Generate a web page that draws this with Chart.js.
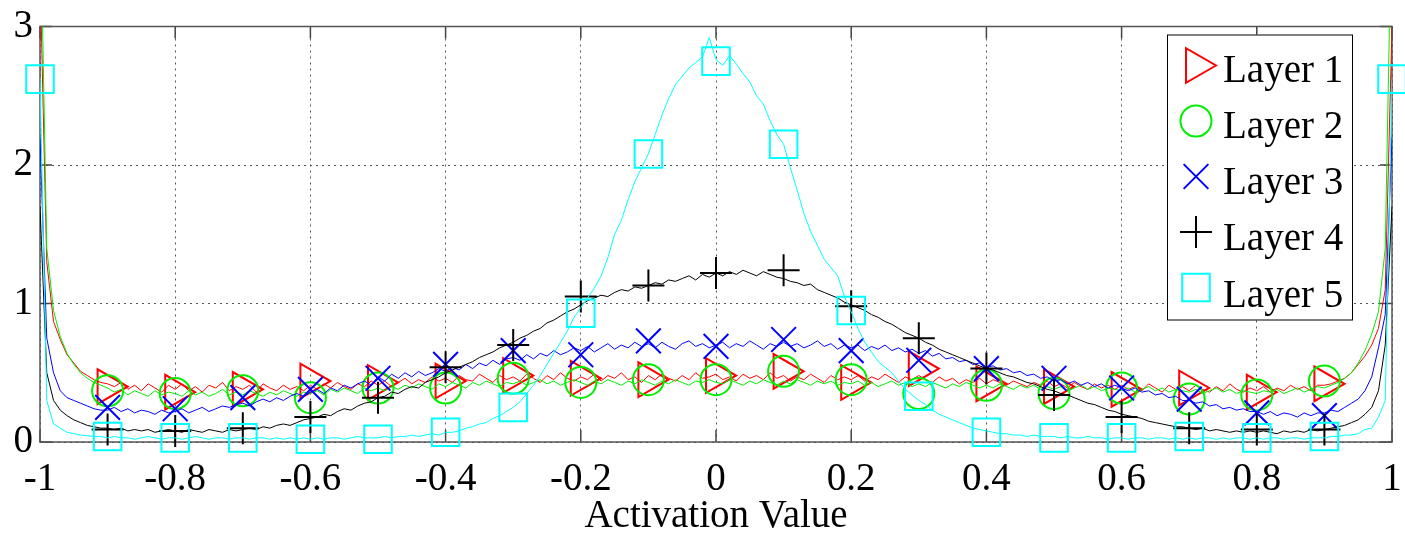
<!DOCTYPE html>
<html>
<head>
<meta charset="utf-8">
<script src="https://cdn.jsdelivr.net/npm/chart.js@4.4.1/dist/chart.umd.min.js"></script>
<style>
  html, body { margin: 0; padding: 0; background: #fff; }
  #wrap { width: 1405px; height: 535px; }
</style>
</head>
<body>
<div id="wrap"><canvas id="chart"></canvas></div>
<script>
// histogram bins from -1 to 1, one value every 0.01
const binStep = 0.01;

const layer1 = [
  3.40, 1.30, 0.87, 0.74, 0.63, 0.57, 0.51, 0.48, 0.45, 0.43,
  0.42, 0.40, 0.43, 0.38, 0.41, 0.37, 0.42, 0.39, 0.36, 0.41,
  0.38, 0.42, 0.37, 0.40, 0.36, 0.41, 0.39, 0.43, 0.37, 0.40,
  0.38, 0.41, 0.36, 0.42, 0.39, 0.37, 0.41, 0.38, 0.40, 0.37,
  0.41, 0.38, 0.42, 0.39, 0.43, 0.40, 0.38, 0.42, 0.40, 0.44,
  0.41, 0.44, 0.40, 0.43, 0.46, 0.42, 0.45, 0.43, 0.47, 0.44,
  0.46, 0.43, 0.48, 0.45, 0.44, 0.49, 0.46, 0.43, 0.48, 0.45,
  0.47, 0.44, 0.49, 0.46, 0.43, 0.48, 0.45, 0.50, 0.46, 0.44,
  0.47, 0.45, 0.49, 0.44, 0.48, 0.46, 0.50, 0.45, 0.47, 0.43,
  0.48, 0.45, 0.49, 0.46, 0.44, 0.48, 0.45, 0.50, 0.46, 0.47,
  0.49, 0.45, 0.47, 0.44, 0.49, 0.46, 0.48, 0.45, 0.50, 0.46,
  0.48, 0.44, 0.47, 0.45, 0.49, 0.46, 0.43, 0.48, 0.45, 0.47,
  0.45, 0.48, 0.44, 0.47, 0.45, 0.49, 0.46, 0.43, 0.47, 0.45,
  0.48, 0.45, 0.43, 0.47, 0.44, 0.46, 0.42, 0.45, 0.43, 0.46,
  0.42, 0.45, 0.43, 0.41, 0.44, 0.42, 0.40, 0.43, 0.41, 0.44,
  0.40, 0.42, 0.39, 0.43, 0.40, 0.38, 0.42, 0.39, 0.41, 0.38,
  0.41, 0.38, 0.40, 0.37, 0.42, 0.39, 0.36, 0.41, 0.38, 0.40,
  0.37, 0.41, 0.38, 0.36, 0.40, 0.37, 0.42, 0.38, 0.36, 0.39,
  0.37, 0.40, 0.36, 0.39, 0.37, 0.41, 0.38, 0.40, 0.37, 0.41,
  0.41, 0.42, 0.44, 0.46, 0.50, 0.56, 0.62, 0.70, 0.82, 1.10,
  3.00
];

const layer2 = [
  4.00, 1.40, 0.95, 0.76, 0.64, 0.56, 0.50, 0.46, 0.43, 0.41,
  0.39, 0.36, 0.38, 0.34, 0.37, 0.35, 0.33, 0.37, 0.34, 0.36,
  0.35, 0.33, 0.37, 0.34, 0.36, 0.33, 0.35, 0.38, 0.34, 0.36,
  0.34, 0.37, 0.35, 0.33, 0.36, 0.34, 0.37, 0.35, 0.33, 0.36,
  0.35, 0.37, 0.34, 0.38, 0.36, 0.39, 0.37, 0.35, 0.39, 0.37,
  0.39, 0.37, 0.40, 0.38, 0.41, 0.39, 0.42, 0.40, 0.38, 0.42,
  0.40, 0.43, 0.41, 0.39, 0.43, 0.41, 0.44, 0.42, 0.40, 0.43,
  0.42, 0.44, 0.41, 0.43, 0.45, 0.42, 0.44, 0.41, 0.43, 0.45,
  0.43, 0.41, 0.44, 0.42, 0.45, 0.43, 0.41, 0.44, 0.42, 0.45,
  0.43, 0.41, 0.44, 0.42, 0.45, 0.43, 0.41, 0.44, 0.43, 0.45,
  0.43, 0.42, 0.45, 0.43, 0.41, 0.44, 0.42, 0.45, 0.43, 0.41,
  0.44, 0.42, 0.45, 0.43, 0.41, 0.44, 0.42, 0.44, 0.41, 0.43,
  0.42, 0.44, 0.41, 0.43, 0.40, 0.42, 0.44, 0.41, 0.43, 0.40,
  0.42, 0.40, 0.43, 0.41, 0.39, 0.42, 0.40, 0.43, 0.41, 0.39,
  0.41, 0.39, 0.42, 0.40, 0.38, 0.41, 0.39, 0.41, 0.38, 0.40,
  0.38, 0.40, 0.37, 0.39, 0.41, 0.38, 0.40, 0.37, 0.39, 0.38,
  0.37, 0.39, 0.36, 0.38, 0.40, 0.37, 0.39, 0.36, 0.38, 0.37,
  0.36, 0.38, 0.35, 0.37, 0.39, 0.36, 0.38, 0.35, 0.37, 0.36,
  0.35, 0.37, 0.36, 0.38, 0.35, 0.37, 0.39, 0.36, 0.38, 0.40,
  0.39, 0.41, 0.43, 0.46, 0.50, 0.57, 0.66, 0.78, 0.94, 1.40,
  4.00
];

const layer3 = [
  2.20, 0.75, 0.50, 0.37, 0.32, 0.30, 0.28, 0.26, 0.24, 0.23,
  0.23, 0.25, 0.22, 0.24, 0.21, 0.23, 0.22, 0.20, 0.23, 0.21,
  0.22, 0.24, 0.21, 0.23, 0.25, 0.22, 0.24, 0.26, 0.25, 0.27,
  0.28, 0.26, 0.29, 0.31, 0.29, 0.32, 0.30, 0.33, 0.35, 0.33,
  0.36, 0.38, 0.35, 0.39, 0.37, 0.41, 0.39, 0.42, 0.44, 0.41,
  0.47, 0.44, 0.49, 0.46, 0.50, 0.47, 0.51, 0.48, 0.50, 0.53,
  0.51, 0.54, 0.52, 0.56, 0.53, 0.57, 0.55, 0.59, 0.56, 0.60,
  0.61, 0.59, 0.63, 0.60, 0.64, 0.62, 0.66, 0.63, 0.65, 0.68,
  0.66, 0.69, 0.65, 0.68, 0.71, 0.67, 0.70, 0.68, 0.72, 0.69,
  0.71, 0.68, 0.72, 0.69, 0.67, 0.71, 0.73, 0.69, 0.71, 0.68,
  0.70, 0.72, 0.68, 0.71, 0.69, 0.73, 0.70, 0.67, 0.71, 0.69,
  0.72, 0.69, 0.71, 0.68, 0.70, 0.73, 0.69, 0.71, 0.67, 0.70,
  0.68, 0.70, 0.66, 0.69, 0.67, 0.70, 0.66, 0.68, 0.65, 0.67,
  0.64, 0.66, 0.62, 0.64, 0.60, 0.61, 0.58, 0.59, 0.56, 0.57,
  0.54, 0.55, 0.52, 0.53, 0.50, 0.51, 0.48, 0.49, 0.46, 0.47,
  0.44, 0.45, 0.42, 0.44, 0.41, 0.43, 0.40, 0.42, 0.39, 0.41,
  0.39, 0.37, 0.39, 0.36, 0.37, 0.34, 0.35, 0.32, 0.33, 0.30,
  0.30, 0.28, 0.29, 0.26, 0.27, 0.24, 0.25, 0.23, 0.24, 0.22,
  0.22, 0.20, 0.22, 0.19, 0.21, 0.20, 0.18, 0.21, 0.19, 0.21,
  0.21, 0.23, 0.22, 0.25, 0.28, 0.31, 0.37, 0.47, 0.68, 0.92,
  2.20
];

const layer4 = [
  1.70, 0.50, 0.30, 0.23, 0.19, 0.16, 0.14, 0.12, 0.11, 0.10,
  0.10, 0.09, 0.10, 0.08, 0.09, 0.08, 0.09, 0.07, 0.08, 0.09,
  0.08, 0.07, 0.09, 0.08, 0.07, 0.09, 0.08, 0.07, 0.09, 0.08,
  0.09, 0.10, 0.09, 0.11, 0.10, 0.12, 0.13, 0.12, 0.14, 0.16,
  0.17, 0.18, 0.20, 0.19, 0.22, 0.24, 0.23, 0.26, 0.28, 0.29,
  0.32, 0.33, 0.36, 0.35, 0.38, 0.40, 0.39, 0.43, 0.45, 0.47,
  0.50, 0.52, 0.54, 0.56, 0.58, 0.61, 0.63, 0.65, 0.68, 0.70,
  0.72, 0.75, 0.77, 0.80, 0.82, 0.86, 0.88, 0.91, 0.94, 0.96,
  0.99, 1.02, 1.04, 1.06, 1.05, 1.08, 1.10, 1.09, 1.12, 1.11,
  1.13, 1.15, 1.14, 1.17, 1.16, 1.18, 1.20, 1.17, 1.21, 1.19,
  1.22, 1.20, 1.23, 1.21, 1.24, 1.22, 1.20, 1.23, 1.21, 1.19,
  1.18, 1.16, 1.15, 1.13, 1.14, 1.10, 1.08, 1.06, 1.04, 1.01,
  0.99, 0.97, 0.95, 0.92, 0.90, 0.87, 0.85, 0.82, 0.79, 0.77,
  0.75, 0.72, 0.70, 0.67, 0.65, 0.63, 0.61, 0.59, 0.57, 0.55,
  0.53, 0.52, 0.50, 0.48, 0.47, 0.45, 0.43, 0.42, 0.40, 0.38,
  0.37, 0.35, 0.34, 0.32, 0.30, 0.28, 0.27, 0.25, 0.23, 0.22,
  0.20, 0.19, 0.18, 0.17, 0.15, 0.14, 0.13, 0.12, 0.11, 0.11,
  0.10, 0.09, 0.10, 0.08, 0.09, 0.08, 0.07, 0.08, 0.07, 0.08,
  0.07, 0.08, 0.07, 0.06, 0.08, 0.07, 0.08, 0.07, 0.09, 0.08,
  0.09, 0.10, 0.11, 0.12, 0.14, 0.16, 0.20, 0.25, 0.37, 0.70,
  1.70
];

const layer5 = [
  2.62, 0.30, 0.13, 0.10, 0.07, 0.06, 0.05, 0.045, 0.04, 0.04,
  0.03, 0.04, 0.03, 0.03, 0.02, 0.03, 0.04, 0.03, 0.02, 0.03,
  0.03, 0.02, 0.03, 0.04, 0.03, 0.02, 0.03, 0.03, 0.02, 0.03,
  0.03, 0.02, 0.03, 0.03, 0.02, 0.03, 0.02, 0.03, 0.02, 0.03,
  0.02, 0.03, 0.02, 0.03, 0.03, 0.02, 0.03, 0.04, 0.03, 0.03,
  0.03, 0.04, 0.03, 0.04, 0.04, 0.05, 0.04, 0.05, 0.06, 0.05,
  0.07, 0.07, 0.08, 0.10, 0.11, 0.13, 0.14, 0.17, 0.19, 0.22,
  0.25, 0.29, 0.35, 0.41, 0.48, 0.56, 0.64, 0.72, 0.80, 0.90,
  0.97, 1.04, 1.11, 1.20, 1.33, 1.50, 1.60, 1.75, 1.88, 1.98,
  2.08, 2.22, 2.36, 2.48, 2.58, 2.64, 2.70, 2.74, 2.78, 2.92,
  2.76, 2.72, 2.79, 2.73, 2.66, 2.60, 2.50, 2.44, 2.32, 2.22,
  2.15, 1.98, 1.82, 1.65, 1.52, 1.42, 1.32, 1.26, 1.20, 1.05,
  0.94, 0.82, 0.72, 0.65, 0.58, 0.54, 0.50, 0.44, 0.38, 0.34,
  0.30, 0.27, 0.23, 0.20, 0.18, 0.16, 0.14, 0.12, 0.10, 0.09,
  0.08, 0.07, 0.06, 0.06, 0.05, 0.05, 0.04, 0.05, 0.04, 0.04,
  0.04, 0.03, 0.04, 0.03, 0.03, 0.04, 0.03, 0.03, 0.02, 0.03,
  0.03, 0.02, 0.03, 0.03, 0.02, 0.03, 0.03, 0.02, 0.03, 0.02,
  0.03, 0.02, 0.03, 0.03, 0.02, 0.03, 0.02, 0.03, 0.03, 0.02,
  0.03, 0.02, 0.03, 0.03, 0.02, 0.03, 0.03, 0.02, 0.03, 0.03,
  0.03, 0.04, 0.04, 0.05, 0.05, 0.06, 0.09, 0.10, 0.18, 0.30,
  2.62
];

// marker positions (every 0.1) and the values they sit on
const markX = [-0.9, -0.8, -0.7, -0.6, -0.5, -0.4, -0.3, -0.2, -0.1, 0, 0.1, 0.2, 0.3, 0.4, 0.5, 0.6, 0.7, 0.8, 0.9];
const markX5 = [-1, -0.9, -0.8, -0.7, -0.6, -0.5, -0.4, -0.3, -0.2, -0.1, 0, 0.1, 0.2, 0.3, 0.4, 0.5, 0.6, 0.7, 0.8, 0.9, 1];
const marks1 = [0.40, 0.36, 0.38, 0.44, 0.43, 0.44, 0.48, 0.46, 0.45, 0.48, 0.51, 0.43, 0.53, 0.42, 0.40, 0.38, 0.39, 0.36, 0.42];
const marks2 = [0.37, 0.35, 0.37, 0.32, 0.39, 0.39, 0.46, 0.43, 0.45, 0.45, 0.51, 0.45, 0.35, 0.41, 0.35, 0.39, 0.31, 0.34, 0.44];
const marks3 = [0.25, 0.24, 0.32, 0.38, 0.46, 0.56, 0.66, 0.63, 0.73, 0.69, 0.74, 0.66, 0.59, 0.53, 0.46, 0.39, 0.31, 0.21, 0.19];
const marks4 = [0.09, 0.08, 0.10, 0.18, 0.32, 0.54, 0.70, 1.05, 1.13, 1.22, 1.24, 0.98, 0.75, 0.53, 0.34, 0.18, 0.10, 0.09, 0.09];
const marks5 = [2.62, 0.04, 0.03, 0.03, 0.02, 0.02, 0.07, 0.25, 0.93, 2.08, 2.75, 2.15, 0.95, 0.33, 0.07, 0.03, 0.03, 0.04, 0.03, 0.04, 2.62];

const layerNames = ['Layer 1', 'Layer 2', 'Layer 3', 'Layer 4', 'Layer 5'];
const layerColors = ['#ff0000', '#00ee00', '#0000ff', '#000000', '#00ffff'];
const layerMarkers = [
  { style: 'triangle', rotation: 90, radius: 20 },
  { style: 'circle', rotation: 0, radius: 15.5 },
  { style: 'crossRot', rotation: 0, radius: 17.5 },
  { style: 'cross', rotation: 0, radius: 16 },
  { style: 'rect', rotation: 0, radius: 19.5 }
];

const FONT = "'Liberation Serif', 'Times New Roman', serif";

const lineSeries = [layer1, layer2, layer3, layer4, layer5];
const markSeries = [[markX, marks1], [markX, marks2], [markX, marks3], [markX, marks4], [markX5, marks5]];

const binX = layer1.map((_, i) => Math.round((-1 + i * binStep) * 100) / 100);
const toPoints = (xs, ys) => ys.map((y, i) => ({ x: xs[i], y: y }));

const datasets = [];
lineSeries.forEach((vals, k) => {
  // later layers are drawn on top, like in the original figure
  datasets.push({
    label: layerNames[k] + ' line',
    data: toPoints(binX, vals),
    borderColor: layerColors[k],
    borderWidth: 1,
    pointRadius: 0,
    tension: 0,
    order: 20 - 2 * k
  });
  datasets.push({
    label: layerNames[k],
    data: toPoints(markSeries[k][0], markSeries[k][1]),
    showLine: false,
    clip: false,
    pointStyle: layerMarkers[k].style,
    pointRotation: layerMarkers[k].rotation,
    pointRadius: layerMarkers[k].radius,
    pointBorderWidth: 2,
    pointBorderColor: layerColors[k],
    pointBackgroundColor: 'rgba(0,0,0,0)',
    order: 19 - 2 * k
  });
});

// axes box with inward tick marks
const boxPlugin = {
  id: 'boxPlugin',
  beforeDatasetsDraw(chart) {
    const { ctx, chartArea: a, scales } = chart;
    ctx.save();
    ctx.strokeStyle = '#444';
    ctx.lineWidth = 1.5;
    ctx.beginPath();
    scales.x.ticks.forEach(t => {
      const px = scales.x.getPixelForValue(t.value);
      ctx.moveTo(px, a.bottom); ctx.lineTo(px, a.bottom - 12);
      ctx.moveTo(px, a.top); ctx.lineTo(px, a.top + 12);
    });
    scales.y.ticks.forEach(t => {
      const py = scales.y.getPixelForValue(t.value);
      ctx.moveTo(a.left, py); ctx.lineTo(a.left + 12, py);
      ctx.moveTo(a.right, py); ctx.lineTo(a.right - 12, py);
    });
    ctx.stroke();
    ctx.strokeStyle = '#555';
    ctx.strokeRect(a.left, a.top, a.right - a.left, a.bottom - a.top);
    ctx.restore();
  }
};

// boxed legend in the upper right corner
const legendPlugin = {
  id: 'boxLegend',
  afterDatasetsDraw(chart) {
    const { ctx, chartArea: a } = chart;
    const w = 185, h = 285;
    const left = a.right - 40 - w;
    const top = a.top + 8;
    ctx.save();
    ctx.fillStyle = '#fff';
    ctx.fillRect(left, top, w, h);
    ctx.strokeStyle = '#000';
    ctx.lineWidth = 1;
    ctx.strokeRect(left + 0.5, top + 0.5, w, h);
    ctx.font = '39px ' + FONT;
    ctx.textBaseline = 'alphabetic';
    ctx.textAlign = 'left';
    layerNames.forEach((name, i) => {
      const sy = top + 31 + i * 55.5;
      ctx.strokeStyle = layerColors[i];
      ctx.fillStyle = 'rgba(0,0,0,0)';
      ctx.lineWidth = 2;
      Chart.helpers.drawPoint(ctx, {
        pointStyle: layerMarkers[i].style,
        rotation: layerMarkers[i].rotation,
        radius: layerMarkers[i].radius,
        borderWidth: 2
      }, left + 29, sy);
      ctx.fillStyle = '#000';
      ctx.fillText(name, left + 56, top + 47 + i * 56.3);
    });
    ctx.restore();
  }
};

new Chart(document.getElementById('chart'), {
  type: 'line',
  data: { datasets: datasets },
  plugins: [boxPlugin, legendPlugin],
  options: {
    responsive: true,
    maintainAspectRatio: false,
    animation: false,
    layout: { autoPadding: false, padding: { left: 0, right: 13, top: 22, bottom: 0 } },
    plugins: { legend: { display: false }, tooltip: { enabled: false } },
    scales: {
      x: {
        type: 'linear',
        min: -1,
        max: 1,
        afterFit: s => { s.height = 93; s.paddingLeft = 0; s.paddingRight = 0; },
        ticks: {
          stepSize: 0.2,
          padding: 18,
          color: '#000',
          maxRotation: 0,
          font: { family: FONT, size: 39, lineHeight: 1 },
          callback: v => String(Number(v.toFixed(1)))
        },
        grid: { color: '#555', lineWidth: 1, drawTicks: false },
        border: { display: false, dash: [2, 4] },
        title: {
          display: true,
          text: 'Activation Value',
          color: '#000',
          padding: 0,
          font: { family: FONT, size: 39, lineHeight: 0.92 }
        }
      },
      y: {
        min: 0,
        max: 3,
        afterFit: s => { s.width = 40; },
        ticks: {
          stepSize: 1,
          padding: 7,
          color: '#000',
          font: { family: FONT, size: 39, lineHeight: 1 }
        },
        grid: { color: '#555', lineWidth: 1, drawTicks: false },
        border: { display: false, dash: [2, 4] }
      }
    }
  }
});
</script>
</body>
</html>
